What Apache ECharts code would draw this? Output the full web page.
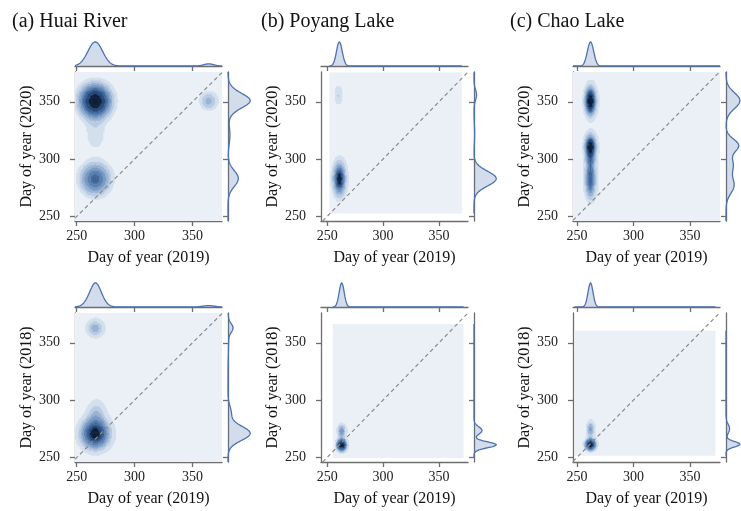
<!DOCTYPE html>
<html>
<head>
<meta charset="utf-8">
<script src="https://cdn.jsdelivr.net/npm/echarts@6/dist/echarts.min.js"></script>
<style>
  html, body { margin: 0; padding: 0; background: #fff; }
  #main { width: 741px; height: 511px; }
</style>
</head>
<body>
<div id="main"></div>
<script>
// texts
const panelTitles = ['(a) Huai River', '(b) Poyang Lake', '(c) Chao Lake'];
const xName = 'Day of year (2019)';
const yNames = ['Day of year (2020)', 'Day of year (2018)'];
const tickValues = [250, 300, 350];
// x limits differ a little per column, y limits are shared
const xRanges = [[248.5, 375.5], [244.5, 376], [246.5, 376.5]];
const yRange = [246, 376];

// density blobs: [centre x, centre y, spread x, spread y, weight]
const huai2020 = [[266, 351, 6.5, 7, 0.52], [266, 283, 6.5, 7, 0.28], [266, 321, 5.5, 8, 0.06], [364, 351, 4.2, 4.2, 0.05]];
const poyang2020 = [[261, 283, 2.6, 6.5, 0.88], [260, 356, 2, 4.5, 0.07], [262, 322, 3, 8, 0.03]];
const chao2020 = [[262, 351, 2.8, 7, 0.30], [262, 312, 2.8, 5.5, 0.21], [262, 295, 2.8, 7, 0.15], [262, 277, 2.8, 7, 0.17]];
const huai2018 = [[266, 271, 5.8, 6.2, 0.74], [267, 289, 4, 6, 0.10], [266, 363, 3.8, 3.8, 0.09], [364, 356, 5, 14, 0.05]];
const poyang2018 = [[263, 261, 2.3, 2.6, 0.68], [263, 273.5, 2.2, 3.2, 0.30]];
const chao2018 = [[262, 261.5, 2.3, 2.4, 0.70], [262, 275, 2.1, 4, 0.30]];

// extent of the shaded density grid: [x0, x1, y0, y1]
const huai2020Extent = [248.5, 375.5, 246, 376];
const poyang2020Extent = [252, 370.5, 252.5, 375.5];
const chao2020Extent = [246.5, 376.5, 246, 376];
const huai2018Extent = [248.5, 375.5, 246, 376];
const poyang2018Extent = [255, 372, 249.5, 366.5];
const chao2018Extent = [248, 372.5, 251.5, 360.5];

const panels = [
  { blobs: huai2020, extent: huai2020Extent, col: 0, row: 0 },
  { blobs: poyang2020, extent: poyang2020Extent, col: 1, row: 0 },
  { blobs: chao2020, extent: chao2020Extent, col: 2, row: 0 },
  { blobs: huai2018, extent: huai2018Extent, col: 0, row: 1 },
  { blobs: poyang2018, extent: poyang2018Extent, col: 1, row: 1 },
  { blobs: chao2018, extent: chao2018Extent, col: 2, row: 1 }
];

// the joint density is smoothed a bit wider than the marginal curves
const jointBandwidth = 1.3;

const FONT = "'Liberation Serif', 'Times New Roman', serif";
const bandColors = ['#eaf0f6', '#d3dfed', '#b8cbe2', '#98b3d4', '#789ac3', '#5a80b1', '#3f669a', '#264a78', '#0d1f3a'];
const lineBlue = '#4c72b0';
const spine = { color: '#6e6e6e', width: 1.3 };
const gridLefts = [75, 321, 573];
const gridTops = [72, 313];
const boxW = 147, boxH = 149;

function density (blobs, x, y) {
  let s = 0;
  blobs.forEach(b => {
    const sx = b[2] * jointBandwidth, sy = b[3] * jointBandwidth;
    const dx = (x - b[0]) / sx, dy = (y - b[1]) / sy;
    s += b[4] / (sx * sy) * Math.exp(-0.5 * (dx * dx + dy * dy));
  });
  return s;
}

function marginal (blobs, v, axis) {
  let s = 0;
  blobs.forEach(b => {
    const m = axis === 'x' ? b[0] : b[1];
    const sd = axis === 'x' ? b[2] : b[3];
    const d = (v - m) / sd;
    s += b[4] / sd * Math.exp(-0.5 * d * d);
  });
  return s;
}

// cells banded by iso-proportion levels, like a filled kde plot
function bandCells (blobs, ext) {
  const cells = [];
  for (let x = ext[0] + 0.5; x < ext[1]; x += 1) {
    for (let y = ext[2] + 0.5; y < ext[3]; y += 1) {
      cells.push([x, y, density(blobs, x, y)]);
    }
  }
  const sorted = cells.map(c => c[2]).sort((a, b) => b - a);
  const total = sorted.reduce((a, b) => a + b, 0);
  const targets = [];
  for (let j = 1; j <= 8; j++) targets.push(1 - j / 9);
  const lv = new Array(8);
  let cum = 0;
  for (let i = 0; i < sorted.length; i++) {
    cum += sorted[i] / total;
    for (let j = 0; j < 8; j++) {
      if (lv[j] === undefined && cum >= targets[j]) lv[j] = sorted[i];
    }
  }
  const out = [];
  cells.forEach(c => {
    let b = 0;
    for (let j = 0; j < 8; j++) if (c[2] >= lv[j]) b = j + 1;
    if (b > 0) out.push([c[0], c[1], b]);
  });
  return out;
}

const grid = [], xAxis = [], yAxis = [], series = [], title = [];

panelTitles.forEach((t, c) => {
  title.push({
    text: t, left: [12, 261, 510][c], top: 12, padding: 0,
    textStyle: { fontFamily: FONT, fontSize: 20, fontWeight: 'normal', color: '#111' }
  });
});

panels.forEach((p, i) => {
  const left = gridLefts[p.col], top = gridTops[p.row];
  const xRange = xRanges[p.col];
  const g = i * 3;
  grid.push({ left: left, top: top, width: boxW, height: boxH });
  grid.push({ left: left, top: top - 32, width: boxW, height: 26 });
  grid.push({ left: left + boxW + 6, top: top, width: 24, height: boxH });

  const tick = { show: true, customValues: tickValues, length: 5, lineStyle: spine };
  const label = { customValues: tickValues, fontFamily: FONT, fontSize: 14, color: '#222' };

  xAxis.push({
    gridIndex: g, type: 'value', min: xRange[0], max: xRange[1],
    axisLine: { show: true, onZero: false, lineStyle: spine }, axisTick: tick,
    axisLabel: Object.assign({ margin: 8 }, label), splitLine: { show: false },
    name: xName, nameLocation: 'middle', nameGap: 29,
    nameTextStyle: { fontFamily: FONT, fontSize: 16, color: '#111' }
  });
  yAxis.push({
    gridIndex: g, type: 'value', min: yRange[0], max: yRange[1],
    axisLine: { show: true, onZero: false, lineStyle: spine }, axisTick: tick,
    axisLabel: Object.assign({ margin: 15 }, label), splitLine: { show: false },
    name: yNames[p.row], nameLocation: 'middle', nameGap: 40,
    nameTextStyle: { fontFamily: FONT, fontSize: 16, color: '#111' }
  });

  // marginal curves
  const ext = p.extent;
  const topPts = [], rightPts = [];
  for (let v = ext[0]; v <= ext[1] + 1e-9; v += 0.5) topPts.push([v, marginal(p.blobs, v, 'x')]);
  for (let v = ext[2]; v <= ext[3] + 1e-9; v += 0.5) rightPts.push([marginal(p.blobs, v, 'y'), v]);
  const topMax = Math.max.apply(null, topPts.map(q => q[1]));
  const rightMax = Math.max.apply(null, rightPts.map(q => q[0]));

  xAxis.push({
    gridIndex: g + 1, type: 'value', min: xRange[0], max: xRange[1],
    axisLine: { show: true, onZero: false, lineStyle: spine }, axisTick: tick,
    axisLabel: { show: false }, splitLine: { show: false }
  });
  yAxis.push({ gridIndex: g + 1, type: 'value', min: 0, max: topMax * 1.08, show: false });
  xAxis.push({ gridIndex: g + 2, type: 'value', min: 0, max: rightMax * 1.08, show: false });
  yAxis.push({
    gridIndex: g + 2, type: 'value', min: yRange[0], max: yRange[1], position: 'left',
    axisLine: { show: true, onZero: false, lineStyle: spine }, axisTick: tick,
    axisLabel: { show: false }, splitLine: { show: false }
  });

  // shaded grid background (lowest band)
  series.push({
    type: 'custom', xAxisIndex: g, yAxisIndex: g, silent: true,
    data: [[ext[0], ext[2], ext[1], ext[3]]],
    encode: { x: [0, 2], y: [1, 3] },
    renderItem: (params, api) => {
      const a = api.coord([api.value(0), api.value(3)]);
      const b = api.coord([api.value(2), api.value(1)]);
      return { type: 'rect', shape: { x: a[0], y: a[1], width: b[0] - a[0], height: b[1] - a[1] }, style: { fill: bandColors[0] } };
    }
  });

  series.push({
    type: 'custom', xAxisIndex: g, yAxisIndex: g, silent: true,
    data: bandCells(p.blobs, ext),
    encode: { x: 0, y: 1 },
    renderItem: (params, api) => {
      const x = api.value(0), y = api.value(1), b = api.value(2);
      const a = api.coord([x - 0.5, y + 0.5]);
      const c = api.coord([x + 0.5, y - 0.5]);
      return { type: 'rect', shape: { x: a[0], y: a[1], width: c[0] - a[0] + 0.5, height: c[1] - a[1] + 0.5 }, style: { fill: bandColors[b] } };
    }
  });

  // y = x reference line
  const lo = Math.max(xRange[0], yRange[0]), hi = Math.min(xRange[1], yRange[1]);
  series.push({
    type: 'line', xAxisIndex: g, yAxisIndex: g, silent: true, symbol: 'none',
    data: [[lo, lo], [hi, hi]],
    lineStyle: { color: '#8c8c8c', width: 1.2, type: [4, 3] }
  });

  const margSeries = (pts, ai, vertical) => ({
    type: 'custom', xAxisIndex: ai, yAxisIndex: ai, silent: true,
    data: pts, encode: { x: 0, y: 1 },
    renderItem: (params, api) => {
      if (params.dataIndex !== 0) return null;
      const line = pts.map(q => api.coord(q));
      const first = vertical ? api.coord([0, pts[0][1]]) : api.coord([pts[0][0], 0]);
      const last = vertical ? api.coord([0, pts[pts.length - 1][1]]) : api.coord([pts[pts.length - 1][0], 0]);
      return {
        type: 'group',
        children: [
          { type: 'polygon', shape: { points: [first].concat(line, [last]) }, style: { fill: 'rgba(76,114,176,0.25)' } },
          { type: 'polyline', shape: { points: line }, style: { stroke: lineBlue, lineWidth: 1.3, fill: null } }
        ]
      };
    }
  });
  series.push(margSeries(topPts, g + 1, false));
  series.push(margSeries(rightPts, g + 2, true));
});

const chart = echarts.init(document.getElementById('main'));
chart.setOption({
  animation: false,
  backgroundColor: '#fff',
  title: title,
  grid: grid,
  xAxis: xAxis,
  yAxis: yAxis,
  series: series
});
</script>
</body>
</html>
